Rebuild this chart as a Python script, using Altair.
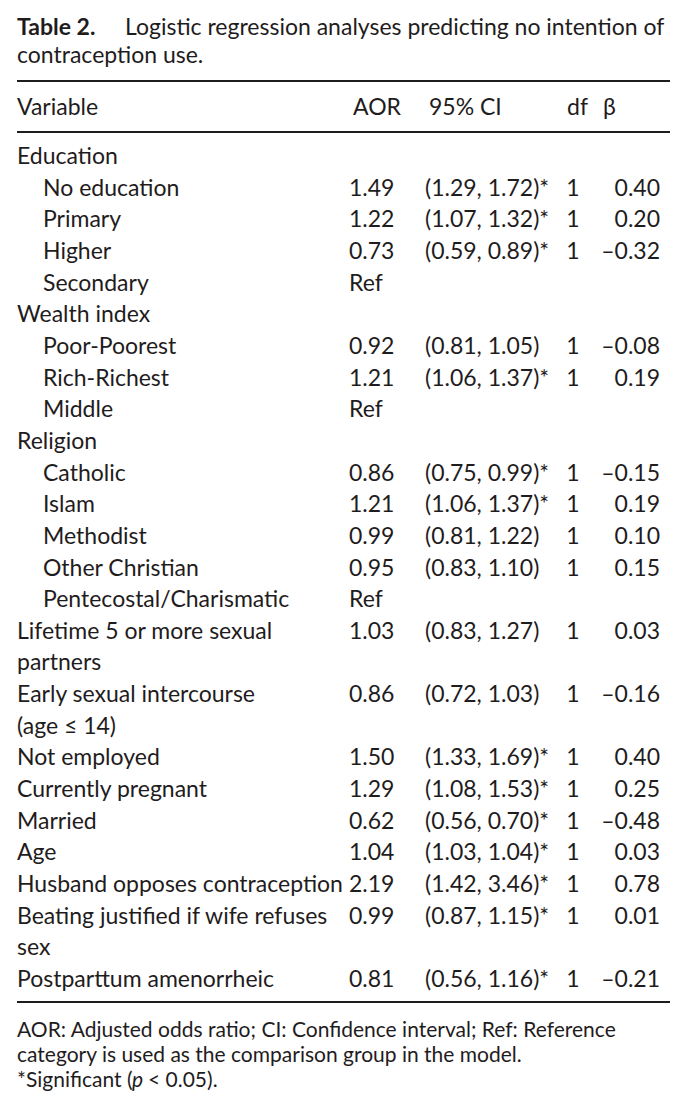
import altair as alt
import pandas as pd

# ---------------- data ----------------
title_bold = "Table 2."
title_rest = "Logistic regression analyses predicting no intention of"
title_line2 = "contraception use."
headers = ["Variable", "AOR", "95% CI", "df", "β"]

labels = [
    "Education", "No education", "Primary", "Higher", "Secondary",
    "Wealth index", "Poor-Poorest", "Rich-Richest", "Middle",
    "Religion", "Catholic", "Islam", "Methodist", "Other Christian",
    "Pentecostal/Charismatic",
    "Lifetime 5 or more sexual", "partners",
    "Early sexual intercourse", "(age ≤ 14)",
    "Not employed", "Currently pregnant", "Married", "Age",
    "Husband opposes contraception",
    "Beating justified if wife refuses", "sex",
    "Postparttum amenorrheic",
]
indent = [0, 1, 1, 1, 1,
          0, 1, 1, 1,
          0, 1, 1, 1, 1, 1,
          0, 0, 0, 0,
          0, 0, 0, 0, 0, 0, 0, 0]
aor = ["", "1.49", "1.22", "0.73", "Ref",
       "", "0.92", "1.21", "Ref",
       "", "0.86", "1.21", "0.99", "0.95", "Ref",
       "1.03", "", "0.86", "",
       "1.50", "1.29", "0.62", "1.04", "2.19", "0.99", "", "0.81"]
ci = ["", "(1.29, 1.72)*", "(1.07, 1.32)*", "(0.59, 0.89)*", "",
      "", "(0.81, 1.05)", "(1.06, 1.37)*", "",
      "", "(0.75, 0.99)*", "(1.06, 1.37)*", "(0.81, 1.22)", "(0.83, 1.10)", "",
      "(0.83, 1.27)", "", "(0.72, 1.03)", "",
      "(1.33, 1.69)*", "(1.08, 1.53)*", "(0.56, 0.70)*", "(1.03, 1.04)*",
      "(1.42, 3.46)*", "(0.87, 1.15)*", "", "(0.56, 1.16)*"]
dfs = ["", "1", "1", "1", "",
       "", "1", "1", "",
       "", "1", "1", "1", "1", "",
       "1", "", "1", "",
       "1", "1", "1", "1", "1", "1", "", "1"]
beta = ["", "0.40", "0.20", "–0.32", "",
        "", "–0.08", "0.19", "",
        "", "–0.15", "0.19", "0.10", "0.15", "",
        "0.03", "", "–0.16", "",
        "0.40", "0.25", "–0.48", "0.03", "0.78", "0.01", "", "–0.21"]

notes = ["AOR: Adjusted odds ratio; CI: Confidence interval; Ref: Reference",
         "category is used as the comparison group in the model."]
note_sig = ["*Significant (", "p", "< 0.05)."]

# ---------------- styling ----------------
FONT = "Lato"
FS = 23
FS_NOTE = 21
INK = "#1f1c1d"

table = pd.DataFrame({
    "row": list(range(len(labels))),
    "label": labels,
    "indent": indent,
    "aor": aor,
    "ci": ci,
    "df": dfs,
    "beta": beta,
})

rowy = alt.Y("row:Q", scale=alt.Scale(domain=[0, 26], range=[156, 979]), axis=None)
base = alt.Chart(table)


def txt(**kw):
    opts = dict(baseline="alphabetic", font=FONT, fontSize=FS, color=INK)
    opts.update(kw)
    return opts


lab = base.mark_text(**txt(align="left")).encode(
    x=alt.X("indent:Q", scale=alt.Scale(domain=[0, 1], range=[9, 35]), axis=None),
    y=rowy, text="label:N")
c_aor = base.mark_text(**txt(align="left")).encode(x=alt.value(341), y=rowy, text="aor:N")
c_ci = base.mark_text(**txt(align="left")).encode(x=alt.value(417), y=rowy, text="ci:N")
c_df = base.mark_text(**txt(align="center")).encode(x=alt.value(565), y=rowy, text="df:N")
c_beta = base.mark_text(**txt(align="right")).encode(x=alt.value(652), y=rowy, text="beta:N")

one = pd.DataFrame({"k": [0]})
ob = alt.Chart(one)


def single(text, x, y, **kw):
    return ob.mark_text(**txt(align=kw.pop("align", "left"), **kw)).encode(
        x=alt.value(x), y=alt.value(y), text=alt.value(text))


def rule(y):
    return ob.mark_rule(color=INK, strokeWidth=2).encode(
        x=alt.value(9), x2=alt.value(662), y=alt.value(y))


layers = [
    single(title_bold, 9, 27, fontWeight="bold"),
    single(title_rest, 117, 27),
    single(title_line2, 9, 55),
    rule(73),
    single(headers[0], 9, 107),
    single(headers[1], 345, 107),
    single(headers[2], 421, 107),
    single(headers[3], 559, 107),
    single(headers[4], 595, 107),
    rule(124),
    lab, c_aor, c_ci, c_df, c_beta,
    rule(994),
    single(notes[0], 9, 1029, fontSize=FS_NOTE),
    single(notes[1], 9, 1054, fontSize=FS_NOTE),
    single(note_sig[0], 9, 1079, fontSize=FS_NOTE),
    single(note_sig[1], 124, 1079, fontSize=FS_NOTE, fontStyle="italic"),
    single(note_sig[2], 140, 1079, fontSize=FS_NOTE),
]

chart = alt.layer(*layers).properties(width=672, height=1096, padding=0).configure_view(stroke=None)

chart.save("out.html", embed_options={"renderer": "svg", "actions": False})
